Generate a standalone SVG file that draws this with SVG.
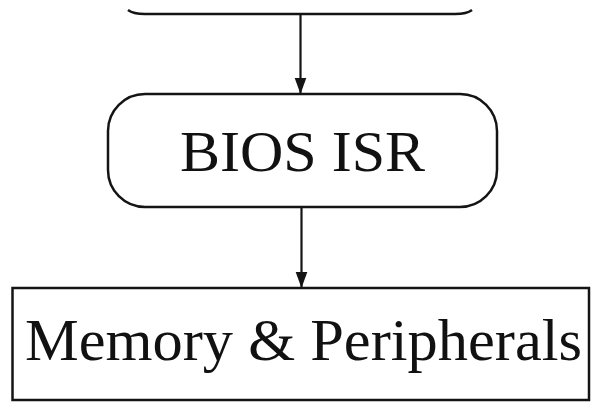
<svg xmlns="http://www.w3.org/2000/svg" width="591" height="403" viewBox="0 0 591 403">
<style>
.box{fill:none;stroke:#141414;stroke-width:2.5}
.edge{fill:none;stroke:#141414;stroke-width:2.2}
.lbl{font-family:"Liberation Serif","Times New Roman",serif;fill:#111;text-anchor:middle}
</style>
<defs>
<marker id="arr" markerUnits="userSpaceOnUse" markerWidth="16" markerHeight="24" refX="22" refY="8" viewBox="0 0 22 16" orient="auto">
<path d="M0,0 L22,8 L0,16 Z" fill="#141414"/>
</marker>
</defs>
<g id="top-node">
<path class="box" d="M128,10 Q133,14 145,14 L455,14 Q467,14 472,10"/>
</g>
<g id="bios-isr">
<rect class="box" x="108" y="94" width="389" height="113" rx="37" ry="37"/>
<text class="lbl" x="302.5" y="171" font-size="58" textLength="245" lengthAdjust="spacingAndGlyphs">BIOS ISR</text>
</g>
<g id="memory-peripherals">
<rect class="box" x="12.5" y="288" width="576.5" height="112"/>
<text class="lbl" x="303.5" y="360" font-size="60" textLength="557" lengthAdjust="spacingAndGlyphs">Memory &amp; Peripherals</text>
</g>
<g id="connectors">
<line class="edge" x1="300.5" y1="14" x2="300.5" y2="94" marker-end="url(#arr)"/>
<line class="edge" x1="301.5" y1="207" x2="301.5" y2="288" marker-end="url(#arr)"/>
</g>
</svg>
